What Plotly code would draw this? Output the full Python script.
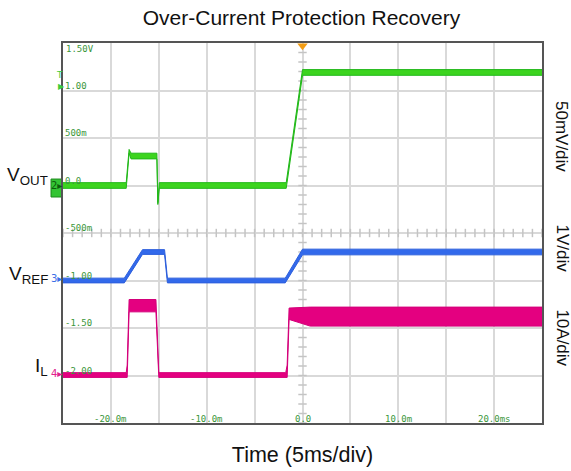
import numpy as np
import plotly.graph_objects as go

# time axis in ms, signal values in screen units of the VOUT scale (0.5 per division)
t_vout = [-25, -18.4, -18.1, -17.9, -15.2, -15.15, -15.1, -14.95, -1.7, 0.0, 25]
vout_hi = [0.03, 0.03, 0.38, 0.34, 0.34, 0.0, -0.18, 0.03, 0.03, 1.22, 1.22]
vout_lo = [-0.03, -0.03, 0.34, 0.28, 0.28, -0.05, -0.20, -0.03, -0.03, 1.16, 1.16]

t_vref = [-25, -18.6, -16.7, -14.4, -14.1, -1.8, 0.0, 25]
vref_hi = [-0.975, -0.975, -0.675, -0.675, -0.975, -0.975, -0.67, -0.67]
vref_lo = [-1.025, -1.025, -0.725, -0.725, -1.025, -1.025, -0.73, -0.73]

t_il = [-25, -18.4, -18.3, -18.1, -15.3, -15.0, -1.75, -1.6, -1.4, 0.8, 25]
il_hi = [-1.97, -1.97, -1.89, -1.20, -1.20, -1.97, -1.97, -1.89, -1.29, -1.28, -1.28]
il_lo = [-2.02, -2.02, -2.02, -1.33, -1.33, -2.02, -2.02, -2.02, -1.41, -1.48, -1.48]

x_tickvals = [-20, -10, 0, 10, 20]
x_ticktext = ["-20.0m", "-10.0m", "0.0", "10.0m", "20.0ms"]
y_tickvals = [1.0, 0.5, 0.0, -0.5, -1.0, -1.5, -2.0]
y_ticktext = ["1.00", "500m", "0.0", "-500m", "-1.00", "-1.50", "-2.00"]

GRID = "#d9d9d9"
LABEL_GREEN = "#3a963a"
channels = [
    ("green", t_vout, vout_lo, vout_hi, "#22b81a", "rgba(60,212,30,1)"),
    ("blue", t_vref, vref_lo, vref_hi, "#2d5fdc", "rgba(50,105,235,1)"),
    ("magenta", t_il, il_lo, il_hi, "#d4007a", "rgba(228,0,128,1)"),
]

fig = go.Figure()

# minor ticks along the centre graticule lines
fig.add_trace(go.Scatter(
    x=np.zeros(41), y=np.arange(-2.5, 1.51, 0.1), mode="markers",
    marker=dict(symbol="line-ew", size=6, line=dict(color="#c4c4c4", width=1.5)),
    hoverinfo="skip", showlegend=False,
))
fig.add_trace(go.Scatter(
    x=np.arange(-25, 25.1, 1.0), y=np.full(51, -0.5), mode="markers",
    marker=dict(symbol="line-ns", size=6, line=dict(color="#c4c4c4", width=1.5)),
    hoverinfo="skip", showlegend=False,
))

for name, t, lo, hi, edge, fill in channels:
    fig.add_trace(go.Scatter(x=t, y=lo, mode="lines", line=dict(color=edge, width=1),
                             showlegend=False, name=name))
    fig.add_trace(go.Scatter(x=t, y=hi, mode="lines", line=dict(color=edge, width=1),
                             fill="tonexty", fillcolor=fill, showlegend=False, name=name))

# trigger position marker
fig.add_trace(go.Scatter(x=[0], y=[1.47], mode="markers", cliponaxis=False,
                         marker=dict(symbol="triangle-down", size=9, color="#f39c12"),
                         showlegend=False))

annotations = []
for v, s in zip(x_tickvals, x_ticktext):
    annotations.append(dict(x=v, y=-2.5, text=s, showarrow=False, xanchor="center", yanchor="bottom",
                            yshift=-3, font=dict(family="DejaVu Sans Mono", size=9, color=LABEL_GREEN)))
annotations.append(dict(x=-25, y=1.5, text="1.50V", showarrow=False, xanchor="left", yanchor="top",
                        xshift=1, yshift=1, font=dict(family="DejaVu Sans Mono", size=9, color=LABEL_GREEN)))
for v, s in zip(y_tickvals, y_ticktext):
    annotations.append(dict(x=-25, y=v, text=s, showarrow=False, xanchor="left", yanchor="bottom",
                            xshift=0, yshift=-2, font=dict(family="DejaVu Sans Mono", size=9, color=LABEL_GREEN)))

# channel names on the left
for label, yv in [("V<sub>OUT</sub>", 0.10), ("V<sub>REF</sub>", -0.94), ("I<sub>L</sub>", -1.91)]:
    annotations.append(dict(x=-0.027, xref="paper", y=yv, text=label, showarrow=False, xanchor="right",
                            yanchor="middle", font=dict(family="Liberation Sans", size=19, color="#111")))

# channel ground markers
for num, yv, col in [("2", -0.02, "#0b5e0b"), ("3", -1.0, "#3b6fe6"), ("4", -2.0, "#e0208c")]:
    annotations.append(dict(x=0.0, xref="paper", y=yv, text=num + "▸", showarrow=False, xanchor="right",
                            yanchor="middle", yshift=2, borderpad=0,
                            font=dict(family="DejaVu Sans", size=10, color=col)))

# trigger level marker
annotations.append(dict(x=-0.008, xref="paper", y=1.16, text="T", showarrow=False, xanchor="center",
                        yanchor="middle", font=dict(family="DejaVu Sans", size=9, color="#3ccc3c")))
annotations.append(dict(x=-0.004, xref="paper", y=1.04, text="▶", showarrow=False, xanchor="center",
                        yanchor="middle", font=dict(family="DejaVu Sans", size=8, color="#3ccc3c")))

# scale labels on the right
for text, yv in [("50mV/div", 0.52), ("1V/div", -0.665), ("10A/div", -1.60)]:
    annotations.append(dict(x=1.042, xref="paper", y=yv, text=text, showarrow=False, textangle=90,
                            xanchor="center", yanchor="middle", borderpad=0,
                            font=dict(family="Liberation Sans", size=17, color="#111")))

fig.update_layout(
    width=571,
    height=471,
    margin=dict(l=63, r=29, t=43, b=48, autoexpand=False),
    paper_bgcolor="white",
    plot_bgcolor="white",
    title=dict(text="Over-Current Protection Recovery", x=0.528, xanchor="center", y=0.963, yanchor="middle",
               font=dict(family="Liberation Sans", size=21, color="#111")),
    font=dict(family="Liberation Sans"),
    annotations=annotations,
    shapes=[dict(type="rect", xref="paper", yref="y", x0=-0.025, x1=-0.002, y0=-0.121, y1=0.068,
                 fillcolor="#33c433", line=dict(color="#1c8a1c", width=1), layer="below")],
)
fig.update_xaxes(
    range=[-25, 25], dtick=5, showticklabels=False, showgrid=True, gridcolor=GRID, gridwidth=1.5,
    zeroline=False, showline=True, mirror=True, linecolor="#555", linewidth=2,
    title=dict(text="Time (5ms/div)", font=dict(family="Liberation Sans", size=21.5, color="#111"), standoff=23),
)
fig.update_yaxes(
    range=[-2.5, 1.5], dtick=0.5, showticklabels=False, showgrid=True, gridcolor=GRID, gridwidth=1.5,
    zeroline=False, showline=True, mirror=True, linecolor="#555", linewidth=2,
)

# drop the default page margin so the figure fills the window exactly
fig.write_html("out.html", config={"displayModeBar": False},
               post_script="document.body.style.margin = '0';")
